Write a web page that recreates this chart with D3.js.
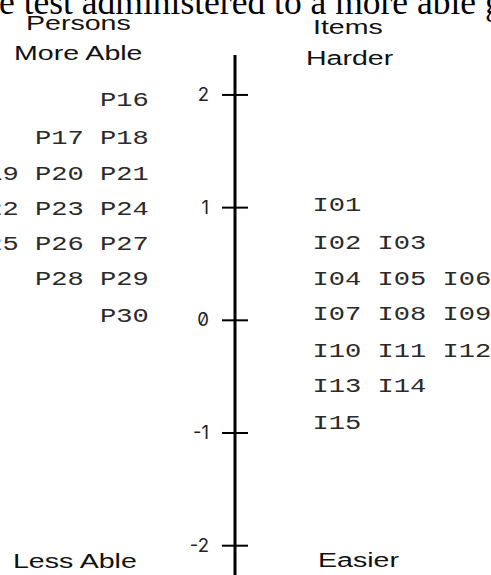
<!DOCTYPE html>
<html>
<head>
<meta charset="utf-8">
<script src="https://cdn.jsdelivr.net/npm/d3@7"></script>
<style>
  html, body { margin: 0; padding: 0; background: #fff; overflow: hidden; }
  svg { display: block; }
</style>
</head>
<body>
<script>
// ---- data ----
const personIds = ["P16","P17","P18","P19","P20","P21","P22","P23","P24","P25","P26","P27","P28","P29","P30"];
const personMeasures = [1.96, 1.62, 1.62, 1.30, 1.30, 1.30, 0.99, 0.99, 0.99, 0.68, 0.68, 0.68, 0.37, 0.37, 0.04];
const itemIds = ["I01","I02","I03","I04","I05","I06","I07","I08","I09","I10","I11","I12","I13","I14","I15"];
const itemMeasures = [1.03, 0.69, 0.69, 0.37, 0.37, 0.37, 0.06, 0.06, 0.06, -0.27, -0.27, -0.27, -0.58, -0.58, -0.91];
const tickValues = [-2, -1, 0, 1, 2];
const tickLabels = ["-2", "-1", "0", "1", "2"];
const captionText = "e test administered to a more able g";
const headers = { personsTitle: "Persons", personsTop: "More Able", personsBottom: "Less Able",
                  itemsTitle: "Items", itemsTop: "Harder", itemsBottom: "Easier" };

// ---- layout ----
const W = 491, H = 575;
const axisX = 235;
const svg = d3.select("body").append("svg").attr("width", W).attr("height", H);

const y = d3.scaleLinear().domain([-2.3, 2.35]).range([579, 55]);

// caption (cropped line of surrounding text)
svg.append("text")
  .attr("x", -1).attr("y", 13.5)
  .attr("font-family", "'Liberation Serif', serif")
  .attr("font-size", 35.5)
  .attr("fill", "#000")
  .text(captionText);

// helper for horizontally stretched text
function stretched(g, x, yy, txt, opts) {
  return g.append("text")
    .attr("transform", `translate(${x},${yy}) scale(${opts.sx},1)`)
    .attr("font-family", opts.family)
    .attr("font-size", opts.size)
    .attr("fill", opts.fill || "#111")
    .text(txt);
}

const sans = { family: "'Liberation Sans', Arial, sans-serif", size: 21, sx: 1.36, fill: "#111" };
stretched(svg, 26, 30, headers.personsTitle, sans);
stretched(svg, 14, 60, headers.personsTop, sans);
stretched(svg, 13, 568, headers.personsBottom, sans);
stretched(svg, 313, 34, headers.itemsTitle, sans);
stretched(svg, 306, 65, headers.itemsTop, sans);
stretched(svg, 318, 567, headers.itemsBottom, sans);

// vertical axis line
svg.append("line")
  .attr("x1", axisX).attr("x2", axisX)
  .attr("y1", y.range()[1]).attr("y2", y.range()[0])
  .attr("stroke", "#000").attr("stroke-width", 3);

// ticks via d3 axis
const axis = d3.axisLeft(y)
  .tickValues(tickValues)
  .tickFormat(d => tickLabels[tickValues.indexOf(d)])
  .tickSize(13)
  .tickPadding(13);
const ag = svg.append("g").attr("transform", `translate(${axisX},0)`).call(axis);
ag.select(".domain").remove();
ag.selectAll(".tick line").attr("x1", 13).attr("stroke", "#000").attr("stroke-width", 2);
ag.selectAll(".tick text")
  .attr("font-family", "Inter, sans-serif")
  .attr("font-size", 18.5)
  .attr("fill", "#222")
  .style("font-feature-settings", "'zero' 1")
  .style("font-variant-numeric", "slashed-zero");

// stacked labels
const mono = { family: "'Liberation Mono', 'Courier New', monospace", size: 21, sx: 1.29, fill: "#2a2a2a" };
const colStep = 65;
const capHalf = 6.8;

function groupRows(ids, measures) {
  const m = new Map();
  ids.forEach((id, i) => {
    const k = measures[i];
    if (!m.has(k)) m.set(k, []);
    m.get(k).push(id);
  });
  return Array.from(m, ([v, list]) => ({ v, list }));
}

const pg = svg.append("g");
groupRows(personIds, personMeasures).forEach(row => {
  const n = row.list.length;
  row.list.forEach((id, i) => {
    const x = 100 - colStep * (n - 1 - i);
    stretched(pg, x, y(row.v) + capHalf, id, mono);
  });
});

const ig = svg.append("g");
groupRows(itemIds, itemMeasures).forEach(row => {
  row.list.forEach((id, i) => {
    const x = 312.5 + colStep * i;
    stretched(ig, x, y(row.v) + capHalf, id, mono);
  });
});
</script>
</body>
</html>
